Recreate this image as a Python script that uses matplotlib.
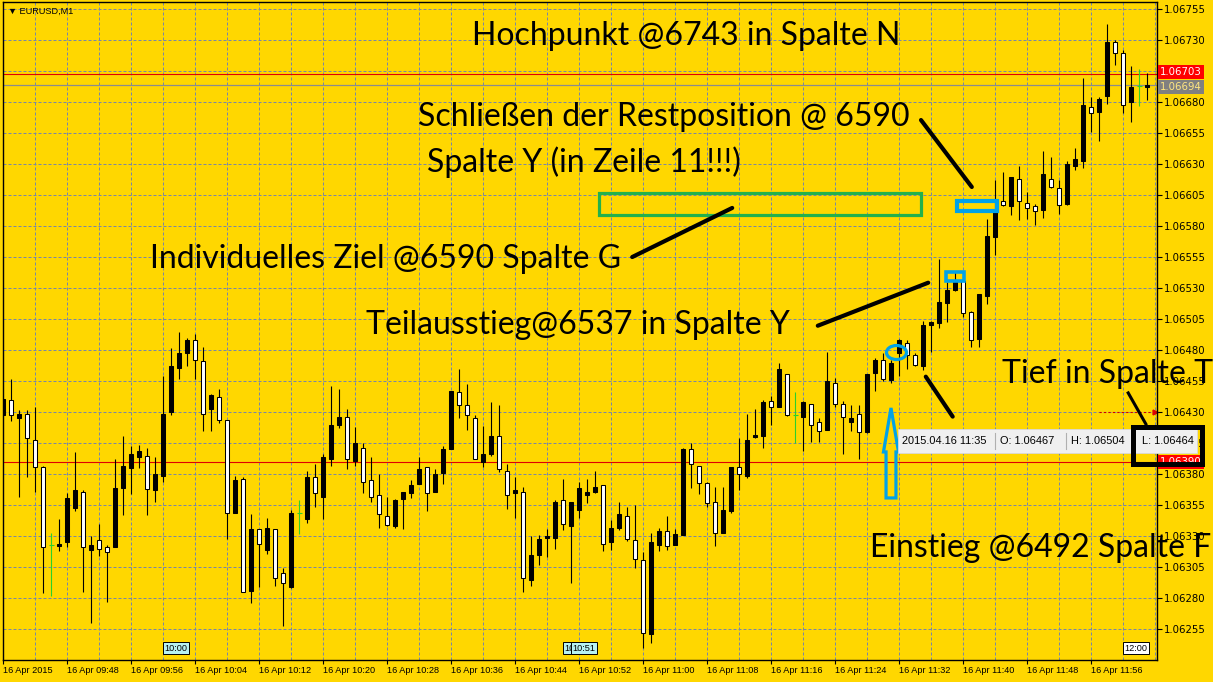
import numpy as np
import matplotlib.pyplot as plt
from matplotlib.patches import Rectangle, Ellipse, Polygon

# EURUSD M1, 16 Apr 2015 - one candle per minute starting 09:40 (index 0)
opens = [
    1.06428, 1.06440, 1.06425, 1.06429, 1.06408, 1.06386, 1.06323, 1.06322, 1.06325, 1.06353, 1.06366, 1.06319,
    1.06327, 1.06321, 1.06321, 1.06369, 1.06385, 1.06394, 1.06395, 1.06367, 1.06379, 1.06430, 1.06466, 1.06478,
    1.06488, 1.06471, 1.06433, 1.06442, 1.06424, 1.06349, 1.06376, 1.06286, 1.06336, 1.06319, 1.06336, 1.06300,
    1.06289, 1.06349, 1.06344, 1.06378, 1.06362, 1.06392, 1.06420, 1.06426, 1.06391, 1.06401, 1.06375, 1.06363,
    1.06346, 1.06338, 1.06360, 1.06365, 1.06372, 1.06386, 1.06366, 1.06381, 1.06400, 1.06446, 1.06436, 1.06425,
    1.06390, 1.06396, 1.06411, 1.06383, 1.06365, 1.06366, 1.06295, 1.06315, 1.06329, 1.06329, 1.06359, 1.06338,
    1.06351, 1.06363, 1.06366, 1.06371, 1.06325, 1.06337, 1.06346, 1.06327, 1.06311, 1.06251, 1.06323, 1.06334,
    1.06323, 1.06331, 1.06400, 1.06387, 1.06373, 1.06358, 1.06333, 1.06350, 1.06386, 1.06379, 1.06410, 1.06411,
    1.06439, 1.06434, 1.06461, 1.06428, 1.06426, 1.06437, 1.06422, 1.06416, 1.06454, 1.06437, 1.06422, 1.06429,
    1.06414, 1.06462, 1.06472, 1.06456, 1.06478, 1.06486, 1.06476, 1.06467, 1.06500, 1.06502, 1.06518, 1.06529,
    1.06536, 1.06511, 1.06489, 1.06524, 1.06571, 1.06600, 1.06596, 1.06618, 1.06599, 1.06596, 1.06593, 1.06618,
    1.06611, 1.06598, 1.06629, 1.06633, 1.06676, 1.06672, 1.06685, 1.06729, 1.06720, 1.06680, 1.06693, 1.06692,
]
highs = [
    1.06441, 1.06457, 1.06432, 1.06432, 1.06434, 1.06387, 1.06333, 1.06344, 1.06365, 1.06398, 1.06367, 1.06330,
    1.06340, 1.06323, 1.06392, 1.06411, 1.06403, 1.06404, 1.06401, 1.06394, 1.06459, 1.06482, 1.06495, 1.06490,
    1.06493, 1.06483, 1.06445, 1.06449, 1.06424, 1.06379, 1.06378, 1.06348, 1.06336, 1.06345, 1.06336, 1.06304,
    1.06351, 1.06359, 1.06383, 1.06388, 1.06396, 1.06451, 1.06449, 1.06433, 1.06418, 1.06405, 1.06394, 1.06380,
    1.06362, 1.06360, 1.06366, 1.06375, 1.06394, 1.06386, 1.06384, 1.06403, 1.06447, 1.06465, 1.06453, 1.06428,
    1.06419, 1.06438, 1.06436, 1.06388, 1.06378, 1.06370, 1.06330, 1.06331, 1.06336, 1.06359, 1.06376, 1.06358,
    1.06374, 1.06376, 1.06383, 1.06371, 1.06343, 1.06358, 1.06354, 1.06355, 1.06317, 1.06333, 1.06337, 1.06346,
    1.06336, 1.06401, 1.06405, 1.06387, 1.06374, 1.06370, 1.06370, 1.06386, 1.06409, 1.06429, 1.06433, 1.06440,
    1.06443, 1.06470, 1.06461, 1.06446, 1.06439, 1.06437, 1.06425, 1.06479, 1.06458, 1.06439, 1.06436, 1.06436,
    1.06461, 1.06474, 1.06478, 1.06472, 1.06489, 1.06488, 1.06478, 1.06504, 1.06504, 1.06554, 1.06535, 1.06544,
    1.06536, 1.06512, 1.06525, 1.06586, 1.06617, 1.06624, 1.06620, 1.06629, 1.06608, 1.06598, 1.06641, 1.06636,
    1.06617, 1.06633, 1.06643, 1.06700, 1.06684, 1.06684, 1.06743, 1.06730, 1.06722, 1.06709, 1.06707, 1.06704,
]
lows = [
    1.06428, 1.06423, 1.06362, 1.06378, 1.06366, 1.06284, 1.06282, 1.06318, 1.06321, 1.06350, 1.06285, 1.06260,
    1.06314, 1.06277, 1.06321, 1.06347, 1.06364, 1.06385, 1.06347, 1.06358, 1.06374, 1.06428, 1.06457, 1.06467,
    1.06457, 1.06415, 1.06415, 1.06421, 1.06328, 1.06349, 1.06285, 1.06276, 1.06289, 1.06316, 1.06290, 1.06258,
    1.06288, 1.06332, 1.06341, 1.06354, 1.06344, 1.06387, 1.06417, 1.06384, 1.06387, 1.06365, 1.06358, 1.06337,
    1.06338, 1.06337, 1.06336, 1.06361, 1.06372, 1.06350, 1.06366, 1.06372, 1.06400, 1.06425, 1.06416, 1.06392,
    1.06386, 1.06395, 1.06382, 1.06352, 1.06345, 1.06285, 1.06290, 1.06307, 1.06313, 1.06320, 1.06335, 1.06292,
    1.06345, 1.06357, 1.06365, 1.06318, 1.06319, 1.06335, 1.06326, 1.06304, 1.06240, 1.06244, 1.06318, 1.06319,
    1.06323, 1.06331, 1.06369, 1.06364, 1.06354, 1.06322, 1.06333, 1.06349, 1.06367, 1.06377, 1.06409, 1.06401,
    1.06420, 1.06434, 1.06427, 1.06405, 1.06399, 1.06406, 1.06406, 1.06416, 1.06434, 1.06396, 1.06415, 1.06392,
    1.06413, 1.06447, 1.06455, 1.06454, 1.06459, 1.06465, 1.06467, 1.06464, 1.06479, 1.06498, 1.06503, 1.06528,
    1.06507, 1.06483, 1.06483, 1.06517, 1.06557, 1.06596, 1.06589, 1.06585, 1.06586, 1.06581, 1.06587, 1.06611,
    1.06590, 1.06597, 1.06625, 1.06627, 1.06656, 1.06649, 1.06679, 1.06710, 1.06671, 1.06664, 1.06677, 1.06682,
]
closes = [
    1.06441, 1.06428, 1.06429, 1.06409, 1.06386, 1.06321, 1.06323, 1.06324, 1.06361, 1.06367, 1.06321, 1.06323,
    1.06320, 1.06317, 1.06369, 1.06387, 1.06396, 1.06399, 1.06368, 1.06380, 1.06429, 1.06467, 1.06478, 1.06488,
    1.06472, 1.06429, 1.06444, 1.06424, 1.06349, 1.06375, 1.06285, 1.06336, 1.06324, 1.06337, 1.06296, 1.06292,
    1.06349, 1.06349, 1.06378, 1.06365, 1.06394, 1.06420, 1.06426, 1.06392, 1.06405, 1.06374, 1.06362, 1.06348,
    1.06339, 1.06359, 1.06366, 1.06371, 1.06384, 1.06365, 1.06380, 1.06400, 1.06447, 1.06436, 1.06428, 1.06392,
    1.06396, 1.06411, 1.06384, 1.06363, 1.06367, 1.06296, 1.06315, 1.06328, 1.06330, 1.06358, 1.06340, 1.06358,
    1.06369, 1.06366, 1.06370, 1.06324, 1.06337, 1.06348, 1.06328, 1.06312, 1.06252, 1.06325, 1.06334, 1.06322,
    1.06332, 1.06400, 1.06388, 1.06373, 1.06357, 1.06333, 1.06351, 1.06386, 1.06380, 1.06408, 1.06412, 1.06438,
    1.06434, 1.06465, 1.06428, 1.06428, 1.06438, 1.06420, 1.06415, 1.06455, 1.06437, 1.06426, 1.06425, 1.06414,
    1.06461, 1.06472, 1.06457, 1.06470, 1.06488, 1.06476, 1.06468, 1.06500, 1.06503, 1.06519, 1.06529, 1.06536,
    1.06510, 1.06488, 1.06525, 1.06572, 1.06592, 1.06597, 1.06620, 1.06600, 1.06595, 1.06592, 1.06622, 1.06612,
    1.06597, 1.06630, 1.06634, 1.06678, 1.06671, 1.06683, 1.06729, 1.06720, 1.06678, 1.06692, 1.06693, 1.06694,
]

time_ticks = list(range(0, 144, 8))
time_labels = ["16 Apr 2015", "16 Apr 09:48", "16 Apr 09:56", "16 Apr 10:04", "16 Apr 10:12",
               "16 Apr 10:20", "16 Apr 10:28", "16 Apr 10:36", "16 Apr 10:44", "16 Apr 10:52",
               "16 Apr 11:00", "16 Apr 11:08", "16 Apr 11:16", "16 Apr 11:24", "16 Apr 11:32",
               "16 Apr 11:40", "16 Apr 11:48", "16 Apr 11:56"]
price_ticks = [round(1.06255 + 0.00025 * i, 5) for i in range(21)]

ask_price, bid_price, hline_price = 1.06703, 1.06694, 1.06390
tooltip_idx = 115  # 11:35

BG = '#FFD700'
GRID = '#7986A6'
BLUE = '#00A2E8'
GREEN = '#22B14C'
DOJI = '#2BD12B'
BIG = dict(family='Lato', fontsize=23, color='black', zorder=20, clip_on=False)

o = np.array(opens); h = np.array(highs); l = np.array(lows); c = np.array(closes)
idx = np.arange(len(o))

fig = plt.figure(figsize=(12.13, 6.82), dpi=100)
fig.patch.set_facecolor(BG)
ax = fig.add_axes([3 / 1213, 22 / 682, 1154 / 1213, 658 / 682])
ax.set_facecolor(BG)
ax.set_xlim(-0.05, 144.2)
ax.set_ylim(1.062302, 1.067609)

# dashed grid
for p in price_ticks:
    ax.axhline(p, color=GRID, lw=0.72, ls=(0, (3, 2)), zorder=0)
for k in range(0, 145, 4):
    ax.axvline(k, color=GRID, lw=0.72, ls=(0, (3, 2)), zorder=0)

# price lines
ax.axhline(hline_price, color='#E00000', lw=0.8, zorder=1)
ax.axhline(ask_price, color='#E00000', lw=0.8, zorder=1)
ax.axhline(bid_price, color='#8C8C8C', lw=0.9, zorder=1)
ax.hlines(1.06430, 137, 143.6, colors='#CC0000', linestyles=(0, (2, 2)), lw=0.8, zorder=1)
ax.plot([143.9], [1.06430], marker='>', color='#DD0000', ms=3.5, zorder=2, clip_on=False)

# candles: black = up, white = down, green = doji
doji = o == c
up = c > o
ax.vlines(idx[~doji], l[~doji], h[~doji], color='black', lw=0.8, zorder=2)
ax.vlines(idx[doji], l[doji], h[doji], color=DOJI, lw=0.8, zorder=2)
ax.hlines(o[doji], idx[doji] - 0.33, idx[doji] + 0.33, color=DOJI, lw=0.8, zorder=3)
body_col = np.where(up, 'black', 'white')
ax.bar(idx[~doji], np.abs(c - o)[~doji], bottom=np.minimum(o, c)[~doji], width=0.52,
       color=body_col[~doji], edgecolor='black', linewidth=0.75, zorder=3)

# axes styling
for s in ax.spines.values():
    s.set_color('black')
    s.set_linewidth(1.0)
ax.yaxis.tick_right()
ax.set_yticks(price_ticks)
ax.set_yticklabels([f"{p:.5f}" for p in price_ticks])
ax.tick_params(axis='y', length=3.5, width=0.8, pad=1.5, labelsize=7.3, colors='black')
ax.set_xticks(time_ticks)
ax.set_xticklabels(time_labels)
ax.tick_params(axis='x', length=3, width=0.8, pad=1.5, labelsize=6.6, colors='black')
for lbl in ax.get_xticklabels():
    lbl.set_ha('left')
    lbl.set_family('Liberation Sans')

ax.text(0.004, 0.986, "\u25bc EURUSD,M1", transform=ax.transAxes, va='center', ha='left',
        fontsize=6.6, family='Liberation Sans')

# right-hand price markers (cover the tick labels underneath)
ytr = ax.get_yaxis_transform()
marker_box = dict(boxstyle='square,pad=0.2')
ax.text(1.0028, ask_price + 0.000012, f"{ask_price:.5f}", transform=ytr, va='center', ha='left',
        fontsize=7.3, color='white', bbox=dict(fc='#FF0000', ec='none', **marker_box), zorder=5)
ax.text(1.0028, bid_price - 0.000016, f"{bid_price:.5f}", transform=ytr, va='center', ha='left',
        fontsize=7.3, color='#FFE680', bbox=dict(fc='#808080', ec='none', **marker_box), zorder=6)
ax.text(1.0028, hline_price, f"{hline_price:.5f}", transform=ytr, va='center', ha='left', fontsize=7.3,
        color='white', bbox=dict(fc='#FF0000', ec='none', **marker_box), zorder=5)

# time marker labels at the bottom
xtr = ax.get_xaxis_transform()
for k, txt, fc in [(20, "10:00", '#B7F2F2'), (70, "10:50", '#B7F2F2'), (71, "10:51", '#B7F2F2'),
                   (140, "12:00", '#FFFFFF')]:
    ax.text(k + 0.1, 0.018, txt, transform=xtr, va='center', ha='left', fontsize=6.6,
            family='Liberation Sans',
            bbox=dict(boxstyle='square,pad=0.15', fc=fc, ec='black', lw=0.7), zorder=6)

# drawn annotations (data coordinates: candle index, price)
ax.add_patch(Rectangle((74.4, 1.06589), 40.3, 0.00018, fill=False, ec=GREEN, lw=2.3, zorder=8))
ax.add_patch(Rectangle((119.2, 1.06592), 5.0, 0.000081, fill=False, ec=BLUE, lw=3.0, zorder=8))
ax.add_patch(Rectangle((117.8, 1.06536), 2.3, 0.000072, fill=False, ec=BLUE, lw=2.6, zorder=8))
ax.add_patch(Ellipse((111.64, 1.064782), 2.5, 0.000113, fill=False, ec=BLUE, lw=2.3, zorder=8))
ax0 = 110.95
arrow = [(ax0, 1.064335), (ax0 + 0.94, 1.06398), (ax0 + 0.62, 1.06398), (ax0 + 0.62, 1.063609),
         (ax0 - 0.62, 1.063609), (ax0 - 0.62, 1.06398), (ax0 - 0.94, 1.06398)]
ax.add_patch(Polygon(arrow, closed=True, fill=False, ec=BLUE, lw=2.3, joinstyle='miter', zorder=8))

segments = [
    ((114.7, 1.066657), (121.05, 1.066117)),
    ((78.6, 1.065552), (91.1, 1.065948)),
    ((101.8, 1.064998), (115.6, 1.065345)),
    ((115.3, 1.064587), (118.66, 1.064265)),
]
for (x0, y0), (x1, y1) in segments:
    ax.plot([x0, x1], [y0, y1], color='black', lw=3.0, solid_capstyle='round', zorder=9)
ax.plot([140.6, 142.8], [1.064456, 1.064206], color='black', lw=2.2, zorder=9, clip_on=False)

# tooltip for the 11:35 candle
ax.add_patch(Rectangle((111.8, 1.063972), 37.4, 0.000193, fc='#F0F0F0', ec='#D8D8D8', lw=0.6,
                       zorder=10, clip_on=False))
for k in (123.95, 132.8):
    ax.plot([k, k], [1.064005, 1.064135], color='#B0B0B0', lw=0.8, zorder=11)
tip_y = 1.064068
tip_font = dict(va='center', ha='left', fontsize=7.9, family='Liberation Sans', zorder=12, clip_on=False)
ax.text(112.3, tip_y, "2015.04.16 11:35", **tip_font)
ax.text(124.6, tip_y, f"O: {opens[tooltip_idx]:.5f}", **tip_font)
ax.text(133.45, tip_y, f"H: {highs[tooltip_idx]:.5f}", **tip_font)
ax.text(142.3, tip_y, f"L: {lows[tooltip_idx]:.5f}", **tip_font)
ax.add_patch(Rectangle((141.2, 1.063883), 8.6, 0.000298, fill=False, ec='black', lw=3.6,
                       zorder=13, clip_on=False))

# text notes
ax.text(58.6, 1.067262, "Hochpunkt @6743 in Spalte N", va='baseline', **BIG)
ax.text(51.8, 1.066609, "Schließen der Restposition @ 6590", va='baseline', **BIG)
ax.text(52.95, 1.066238, "Spalte Y (in Zeile 11!!!)", va='baseline', **BIG)
ax.text(18.3, 1.065464, "Individuelles Ziel @6590 Spalte G", va='baseline', **BIG)
ax.text(45.3, 1.064931, "Teilausstieg@6537 in Spalte Y", va='baseline', **BIG)
ax.text(124.8, 1.064536, "Tief in Spalte T", va='baseline', **BIG)
ax.text(108.3, 1.063133, "Einstieg @6492 Spalte F", va='baseline', **BIG)

fig.savefig('out.png', dpi=100, facecolor=BG)
